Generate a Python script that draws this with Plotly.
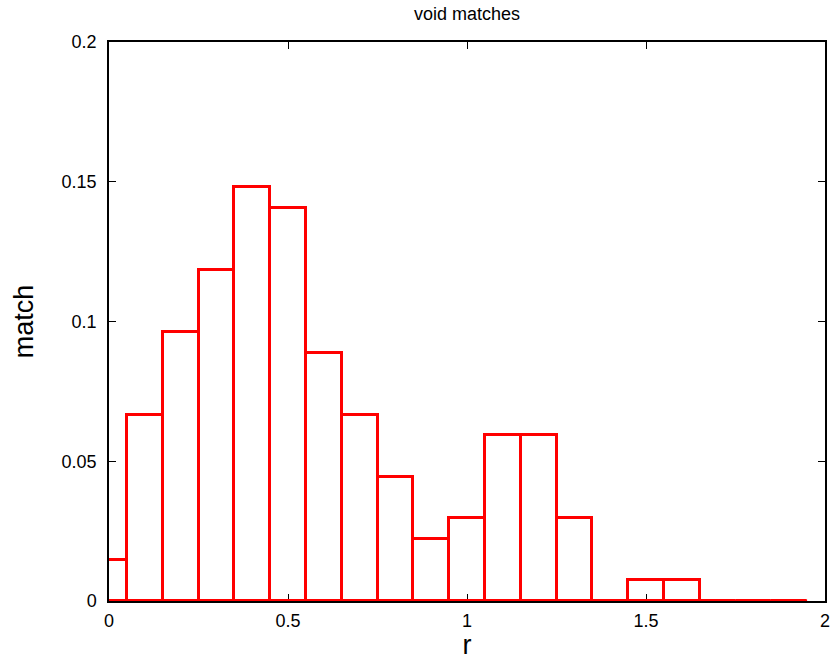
import plotly.graph_objects as go

# histogram of void match distances
bin_centers = [0.0, 0.1, 0.2, 0.3, 0.4, 0.5, 0.6, 0.7, 0.8, 0.9,
               1.0, 1.1, 1.2, 1.3, 1.4, 1.5, 1.6, 1.7, 1.8, 1.9]
match_frac = [0.0148, 0.0667, 0.0963, 0.1185, 0.1481, 0.1407, 0.0889, 0.0667, 0.0444, 0.0222,
              0.0296, 0.0593, 0.0593, 0.0296, 0.0, 0.0074, 0.0074, 0.0, 0.0, 0.0]
bin_width = 0.1

x_ticks = [0, 0.5, 1, 1.5, 2]
x_tick_text = ["0", "0.5", "1", "1.5", "2"]
y_ticks = [0, 0.05, 0.1, 0.15, 0.2]
y_tick_text = ["0", "0.05", "0.1", "0.15", "0.2"]

RED = "#ff0000"
FONT = "Liberation Sans, Arial, sans-serif"

fig = go.Figure()

# empty boxes still show as a line along the baseline
fig.add_trace(go.Scatter(
    x=[bin_centers[0] - bin_width / 2, bin_centers[-1] + bin_width / 2],
    y=[0, 0],
    mode="lines",
    line=dict(color=RED, width=3),
    hoverinfo="skip",
    showlegend=False,
))

fig.add_trace(go.Bar(
    x=bin_centers,
    y=match_frac,
    width=[bin_width] * len(bin_centers),
    marker=dict(color="rgba(0,0,0,0)", line=dict(color=RED, width=3)),
    showlegend=False,
))

axis_common = dict(
    showline=True,
    linecolor="black",
    linewidth=1.5,
    mirror="allticks",
    ticks="inside",
    ticklen=7,
    tickwidth=1,
    tickcolor="black",
    showgrid=False,
    zeroline=False,
    automargin=False,
    layer="below traces",
    tickfont=dict(family=FONT, size=18, color="black"),
)

fig.update_layout(
    width=831,
    height=660,
    margin=dict(l=109, r=6, t=42, b=59),
    paper_bgcolor="white",
    plot_bgcolor="white",
    bargap=0,
    title=dict(
        text="void matches",
        x=0.562,
        xanchor="center",
        y=0.979,
        yanchor="middle",
        font=dict(family=FONT, size=18, color="black"),
    ),
    xaxis=dict(
        range=[0, 2],
        tickvals=x_ticks,
        ticktext=x_tick_text,
        ticklabelstandoff=3,
        title=dict(text="r", font=dict(family=FONT, size=27, color="black"), standoff=4),
        **axis_common,
    ),
    yaxis=dict(
        range=[0, 0.2],
        tickvals=y_ticks,
        ticktext=y_tick_text,
        ticklabelstandoff=7,
        title=dict(text="match", font=dict(family=FONT, size=27, color="black"), standoff=20),
        **axis_common,
    ),
)

fig.write_html("out.html")
